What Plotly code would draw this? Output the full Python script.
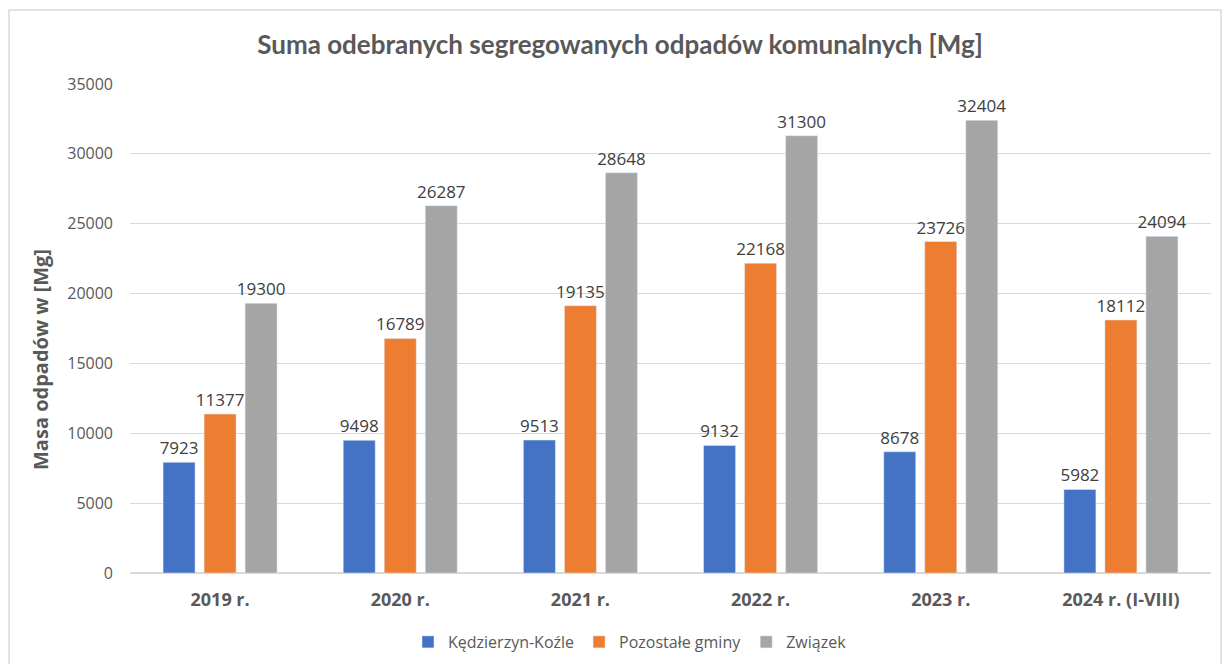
import plotly.graph_objects as go

categories = ["2019 r.", "2020 r.", "2021 r.", "2022 r.", "2023 r.", "2024 r. (I-VIII)"]
kedzierzyn = [7923, 9498, 9513, 9132, 8678, 5982]
pozostale = [11377, 16789, 19135, 22168, 23726, 18112]
zwiazek = [19300, 26287, 28648, 31300, 32404, 24094]
series_names = ["Kędzierzyn-Koźle", "Pozostałe gminy", "Związek"]
colors = ["#4472C4", "#ED7D31", "#A5A5A5"]

fig = go.Figure()
for name, vals, col in zip(series_names, [kedzierzyn, pozostale, zwiazek], colors):
    fig.add_trace(go.Bar(
        name=name, x=categories, y=vals, marker_color=col,
        text=[str(v) for v in vals], textposition="outside",
        constraintext="none",
        textfont=dict(family="Open Sans", size=17, color="#404040"),
        cliponaxis=False,
    ))

W, H = 1224, 664
ml, mr, mt, mb = 130, 13, 84, 91
pw = W - ml - mr
ph = H - mt - mb

fig.update_layout(
    width=W, height=H,
    margin=dict(l=ml, r=mr, t=mt, b=mb, autoexpand=False),
    paper_bgcolor="white", plot_bgcolor="white",
    barmode="group", bargap=0.317, bargroupgap=0.22,
    uniformtext=dict(mode=False),
    title=dict(text="<b>Suma odebranych segregowanych odpadów komunalnych [Mg]</b>",
               x=620 / W, xanchor="center", y=1 - 45 / H, yanchor="middle",
               font=dict(family="Lato", size=26, color="#595959")),
    legend=dict(orientation="h", x=(630 - ml) / pw, xanchor="center",
                y=-(642 - mt - ph) / ph, yanchor="middle",
                font=dict(family="Open Sans", size=16, color="#595959"),
                itemwidth=30, tracegroupgap=0),
    showlegend=True,
    annotations=[dict(text="<b>Masa odpadów w [Mg]</b>", textangle=-90,
                      xref="paper", yref="paper",
                      x=(40 - ml) / pw, y=1 - (360 - mt) / ph,
                      xanchor="center", yanchor="middle", showarrow=False,
                      font=dict(family="Open Sans", size=20, color="#595959"))],
)
fig.update_xaxes(
    showgrid=False, showline=False, ticks="", automargin=False,
    ticklabelstandoff=14,
    tickfont=dict(family="Open Sans", size=18, color="#595959", weight="bold"),
)
fig.update_yaxes(
    range=[0, 35000], dtick=5000, showgrid=True, gridcolor="#d9d9d9", gridwidth=1,
    zeroline=True, zerolinecolor="#d9d9d9", zerolinewidth=1.5, automargin=False,
    tickfont=dict(family="Open Sans", size=16, color="#595959"),
    ticks="", ticklen=0, tickformat="d", ticklabelstandoff=16,
)
# chart border
fig.add_shape(type="rect", xref="paper", yref="paper",
              x0=(9 - ml) / pw, x1=(1221 - ml) / pw,
              y0=-(H + 5 - mt - ph) / ph, y1=(H - 10 - mb) / ph,
              line=dict(color="#d9d9d9", width=1.5), layer="below")

fig.write_html("out.html", config={"displayModeBar": False},
               post_script="document.body.style.margin='0';document.body.style.overflow='hidden';")
